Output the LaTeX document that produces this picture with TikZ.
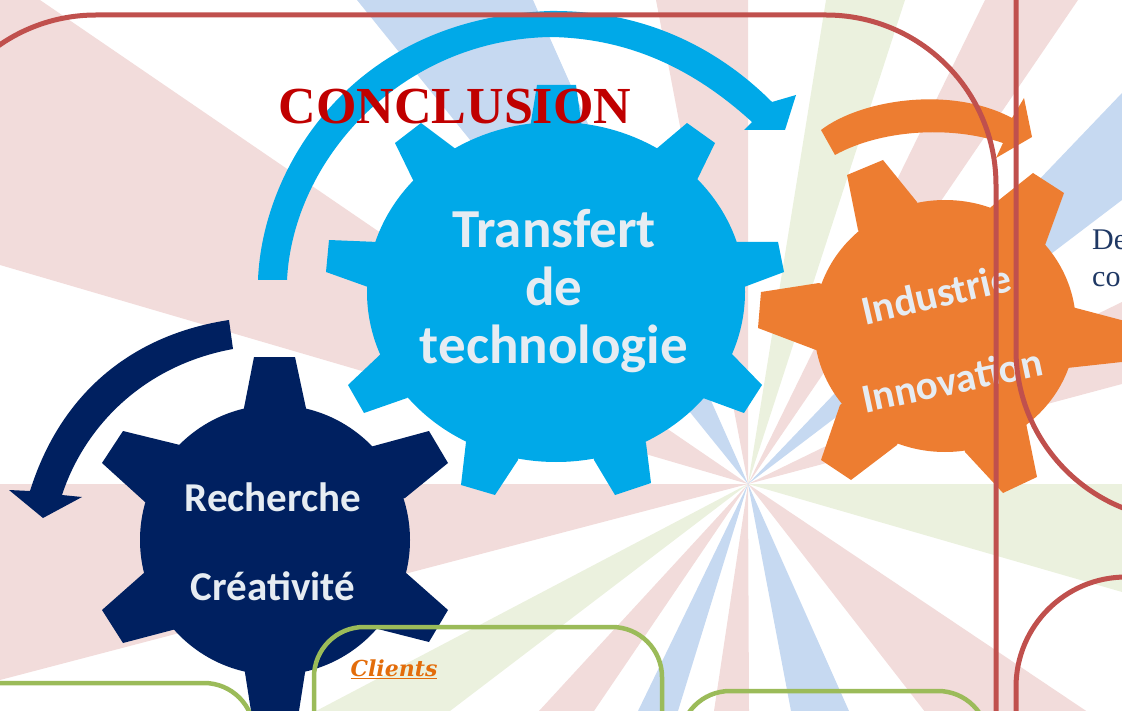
\documentclass[tikz,border=0pt]{standalone}
\usepackage{fontspec}
\setmainfont{Liberation Serif}
\newfontfamily\gearfont{Carlito}
\newfontfamily\labelfont{DejaVu Serif}
\definecolor{raypink}{HTML}{F2DCDB}
\definecolor{rayblue}{HTML}{C6D9F1}
\definecolor{raygreen}{HTML}{EBF1DE}
\definecolor{framered}{HTML}{C0504D}
\definecolor{framegreen}{HTML}{9BBB59}
\definecolor{gearblue}{HTML}{00A9E8}
\definecolor{gearnavy}{HTML}{002060}
\definecolor{gearorange}{HTML}{ED7D31}
\definecolor{gearwhite}{HTML}{E6ECF2}
\definecolor{titlered}{HTML}{C00000}
\definecolor{clientorange}{HTML}{E36C0A}
\definecolor{sidenavy}{HTML}{1F3864}
\tikzset{
  redframe/.style={draw=framered, line width=5pt},
  greenframe/.style={draw=framegreen, line width=4.5pt},
  gearlabel/.style={text=gearwhite, font=\gearfont\bfseries\fontsize{41}{41}\selectfont, align=center, inner sep=0pt},
}

\begin{document}
\begin{tikzpicture}[x=1pt, y=-1pt]
\useasboundingbox (0,0) rectangle (1122,711);
\clip (0,0) rectangle (1122,711);

% rays
\coordinate (hub) at (748,484);
\fill [raypink] (hub) -- (40,0) -- (0,0) -- (0,265) -- cycle;
\fill [raypink] (hub) -- (0,484) -- (0,680) -- cycle;
\fill [rayblue] (hub) -- (357,0) -- (533,0) -- cycle;
\fill [raypink] (hub) -- (656,0) -- (748,0) -- cycle;
\fill [raygreen] (hub) -- (826,0) -- (905,0) -- cycle;
\fill [raypink] (hub) -- (985,0) -- (1078,0) -- cycle;
\fill [rayblue] (hub) -- (1122,93) -- (1122,200) -- cycle;
\fill [raypink] (hub) -- (1122,302) -- (1122,384) -- cycle;
\fill [raygreen] (hub) -- (1122,484) -- (1122,592) -- cycle;
\fill [raypink] (hub) -- (1122,735) -- (943,735) -- cycle;
\fill [rayblue] (hub) -- (791,711) -- (849,711) -- cycle;
\fill [raypink] (hub) -- (714,711) -- (749,711) -- cycle;
\fill [rayblue] (hub) -- (638,711) -- (678,711) -- cycle;
\fill [raypink] (hub) -- (539,711) -- (594,711) -- cycle;
\fill [raygreen] (hub) -- (316,711) -- (450,711) -- cycle;

% blue gear
\coordinate (bluehub) at (556,292);
\fill [gearblue] (bluehub) ellipse [x radius=189, y radius=170];
\fill [gearblue] (530,128) -- (537,85) -- (576,85) -- (582,128) -- (bluehub) -- cycle
  (655,150) -- (687,123) -- (715,143) -- (696,182) -- (bluehub) -- cycle
  (735,242) -- (778,242) -- (784,272) -- (744,287) -- (bluehub) -- cycle
  (730,352) -- (762,385) -- (744,413) -- (703,398) -- (bluehub) -- cycle
  (646,443) -- (651,483) -- (615,495) -- (594,460) -- (bluehub) -- cycle
  (518,460) -- (495,495) -- (461,485) -- (466,442) -- (bluehub) -- cycle
  (407,398) -- (364,413) -- (348,385) -- (385,350) -- (bluehub) -- cycle
  (378,242) -- (329,240) -- (326,272) -- (368,287) -- (bluehub) -- cycle
  (457,150) -- (421,123) -- (395,143) -- (414,182) -- (bluehub) -- cycle;
\fill [gearblue] (258,280) .. controls (262,170) and (350,18) .. (550,11)
  .. controls (640,10) and (715,45) .. (772,102) -- (796,95) -- (785,130) -- (744,130) -- (752,122)
  .. controls (695,70) and (630,38) .. (550,37) .. controls (400,40) and (293,160) .. (287,280) -- cycle;

% navy gear
\coordinate (navyhub) at (275,540);
\fill [gearnavy] (navyhub) ellipse [x radius=135, y radius=135];
\fill [gearnavy] (243,413) -- (254,357) -- (295,357) -- (307,413) -- (navyhub) -- cycle
  (370,447) -- (429,431) -- (448,463) -- (405,498) -- (navyhub) -- cycle
  (405,572) -- (448,610) -- (429,642) -- (370,627) -- (navyhub) -- cycle
  (243,660) -- (254,730) -- (296,730) -- (307,660) -- (navyhub) -- cycle
  (180,628) -- (123,643) -- (102,610) -- (145,572) -- (navyhub) -- cycle
  (180,445) -- (123,431) -- (102,463) -- (145,502) -- (navyhub) -- cycle;
\fill [gearnavy] (229,320) .. controls (130,335) and (60,395) .. (30,491) -- (9,490) -- (43,518) -- (82,497) -- (62,495)
  .. controls (85,425) and (145,365) .. (233,349) -- cycle;

% orange gear
\coordinate (orangehub) at (945,326);
\fill [gearorange] (orangehub) ellipse [x radius=131, y radius=126];
\fill [gearorange] (858,230) -- (847,175) -- (883,160) -- (917,202) -- (orangehub) -- cycle
  (990,208) -- (999,200) -- (1033,173) -- (1064,193) -- (1044,248) -- (orangehub) -- cycle
  (1072,307) -- (1140,325) -- (1140,360) -- (1067,368) -- (orangehub) -- cycle
  (1039,412) -- (1026,423) -- (1037,477) -- (1003,493) -- (965,452) -- (orangehub) -- cycle
  (897,445) -- (851,480) -- (821,460) -- (840,405) -- (orangehub) -- cycle
  (819,283) -- (761,292) -- (758,328) -- (816,350) -- (orangehub) -- cycle;
\fill [gearorange] (821,130) .. controls (860,100) and (950,85) .. (1012,118) -- (1024,98) -- (1032,137) -- (996,158) -- (1003,143)
  .. controls (950,125) and (880,130) .. (835,155) -- cycle;

% gear labels
\node [gearlabel, font=\gearfont\bfseries\fontsize{55}{58}\selectfont] (transfert) at (554,291) {Transfert\\de\\technologie};
\node [gearlabel] (recherche) at (273,497) {Recherche};
\node [gearlabel] (creativite) at (273,586) {Créativité};
\node [gearlabel, rotate=13] (industrie) at (936,294) {Industrie};
\node [gearlabel, rotate=12] (innovation) at (952,380) {Innovation};

% frames
\draw [redframe, rounded corners=170pt] (-74,15) rectangle (996,900);
\draw [redframe, rounded corners=170pt] (1016,-300) rectangle (1400,520);
\draw [redframe, rounded corners=110pt] (1016,577) rectangle (1400,900);
\draw [greenframe, rounded corners=50pt] (-100,683) rectangle (254,900);
\draw [greenframe, rounded corners=50pt] (314,627) rectangle (662,900);
\draw [greenframe, rounded corners=50pt] (680,691) rectangle (988,900);

% texts
\node [text=titlered, font=\fontsize{52}{52}\selectfont\bfseries, inner sep=0pt] (conclusion) at (455,107) {CONCLUSION};
\node [text=clientorange, font=\labelfont\fontsize{22}{22}\selectfont\bfseries\itshape, inner sep=0pt] (clients) at (394,669) {\underline{Clients}};
\node [text=sidenavy, font=\fontsize{30}{37}\selectfont, align=left, anchor=west, inner sep=0pt] (side) at (1092,258) {De\\co};
\end{tikzpicture}
\end{document}
